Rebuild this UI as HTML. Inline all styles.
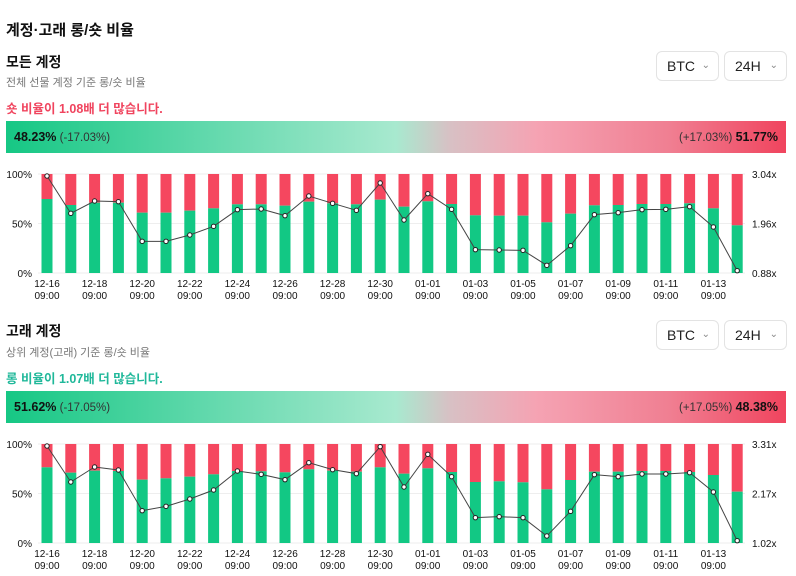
<!DOCTYPE html>
<html><head><meta charset="utf-8"><style>
body{margin:0;width:796px;height:576px;background:#fff;font-family:"Liberation Sans","Noto Sans CJK KR",sans-serif;position:relative;overflow:hidden;color:#111}
.a{position:absolute;white-space:nowrap}
.dd{position:absolute;border:1px solid #e3e3e3;border-radius:6px;height:28px;font-size:14px;line-height:28px;color:#222}
.dd span{position:absolute;left:10px}
.dd i{position:absolute;right:8px;top:0;font-style:normal;font-size:10px;color:#888}
.bar{position:absolute;left:6px;width:780px;height:32px;background:linear-gradient(90deg,#16c784 0%,#5fd8ab 25%,#a8e9cf 50%,#d8c0c4 57%,#f5a3b3 68%,#f07f92 85%,#f0445e 100%);font-size:11.5px;line-height:32px}
.bar b{font-size:12.5px}
svg{position:absolute;left:0}
</style></head><body>
<div class="a" style="left:6px;top:19px;font-size:15px;font-weight:bold">계정·고래 롱/숏 비율</div>

<div class="a" style="left:6px;top:52px;font-size:14px;font-weight:bold">모든 계정</div>
<div class="a" style="left:6px;top:74px;font-size:11px;color:#777">전체 선물 계정 기준 롱/숏 비율</div>
<div class="a" style="left:6px;top:98px;font-size:12.5px;font-weight:bold;color:#f0445e">숏 비율이 1.08배 더 많습니다.</div>
<div class="dd" style="left:656px;top:51px;width:61px"><span>BTC</span><i>⌄</i></div>
<div class="dd" style="left:724px;top:51px;width:61px"><span>24H</span><i>⌄</i></div>
<div class="bar" style="top:121px"><span class="a" style="left:8px"><b>48.23%</b> <span style="color:#333">(-17.03%)</span></span><span class="a" style="right:8px"><span style="color:#333">(+17.03%)</span> <b>51.77%</b></span></div>

<div class="a" style="left:6px;top:321px;font-size:14px;font-weight:bold">고래 계정</div>
<div class="a" style="left:6px;top:344px;font-size:11px;color:#777">상위 계정(고래) 기준 롱/숏 비율</div>
<div class="a" style="left:6px;top:368px;font-size:12.5px;font-weight:bold;color:#20b89a">롱 비율이 1.07배 더 많습니다.</div>
<div class="dd" style="left:656px;top:320px;width:61px"><span>BTC</span><i>⌄</i></div>
<div class="dd" style="left:724px;top:320px;width:61px"><span>24H</span><i>⌄</i></div>
<div class="bar" style="top:391px"><span class="a" style="left:8px"><b>51.62%</b> <span style="color:#333">(-17.05%)</span></span><span class="a" style="right:8px"><span style="color:#333">(+17.05%)</span> <b>48.38%</b></span></div>

<svg id="c1" width="796" height="150" style="top:160px"></svg>
<svg id="c2" width="796" height="146" style="top:430px"></svg>
<script>
function draw(id,g,l,r){
 var s='',x0=47,dx=23.8,top=14,bot=113,h=bot-top;
 [top,top+h/2,bot].forEach(function(y){s+='<line x1="38" x2="745" y1="'+y+'" y2="'+y+'" stroke="#eee"/>'});
 var yl=['100%','50%','0%'];
 [top,top+h/2,bot].forEach(function(y,i){s+='<text x="32" y="'+(y+4)+'" font-size="10" text-anchor="end" fill="#111">'+yl[i]+'</text><text x="752" y="'+(y+4)+'" font-size="10" fill="#111">'+r[i]+'</text>'});
 var pts=[];
 for(var i=0;i<30;i++){
  var cx=x0+i*dx,gt=g[i]/3,ly=l[i]/3;
  s+='<rect x="'+(cx-5.5)+'" y="'+top+'" width="11" height="'+(gt-top)+'" fill="#f5475f"/>';
  s+='<rect x="'+(cx-5.5)+'" y="'+gt+'" width="11" height="'+(bot-gt)+'" fill="#12c884"/>';
  pts.push(cx+','+ly);
  if(i%2==0){var lb=['12-16','12-18','12-20','12-22','12-24','12-26','12-28','12-30','01-01','01-03','01-05','01-07','01-09','01-11','01-13'][i/2];
   s+='<text x="'+cx+'" y="127" font-size="10" text-anchor="middle" fill="#111">'+lb+'</text><text x="'+cx+'" y="139" font-size="10" text-anchor="middle" fill="#111">09:00</text>';}
 }
 s+='<polyline points="'+pts.join(' ')+'" fill="none" stroke="#444" stroke-width="1"/>';
 pts.forEach(function(p){var a=p.split(',');s+='<circle cx="'+a[0]+'" cy="'+a[1]+'" r="2.2" fill="#fff" stroke="#222" stroke-width="1"/>'});
 document.getElementById(id).innerHTML=s;
}
draw('c1',[117,135,128,128,158,158,152,145,133,133,137,125,130,133,119,140,124,132,166,167,167,187,161,136,135,132,132,130,145,196],
[48,160,123,125,244,244,225,199,149,147,167,108,130,151,69,180,101,148,269,270,271,316,257,164,158,149,148,140,201,332],['3.04x','1.96x','0.88x']);
draw('c2',[112,128,122,123,149,145,140,133,123,124,127,118,122,125,112,131,115,126,156,154,157,178,150,125,125,123,123,126,135,185],
[48,156,111,120,242,229,207,180,123,133,149,98,119,131,50,171,73,140,263,260,263,318,244,134,140,132,132,128,186,332],['3.31x','2.17x','1.02x']);
</script>
</body></html>
